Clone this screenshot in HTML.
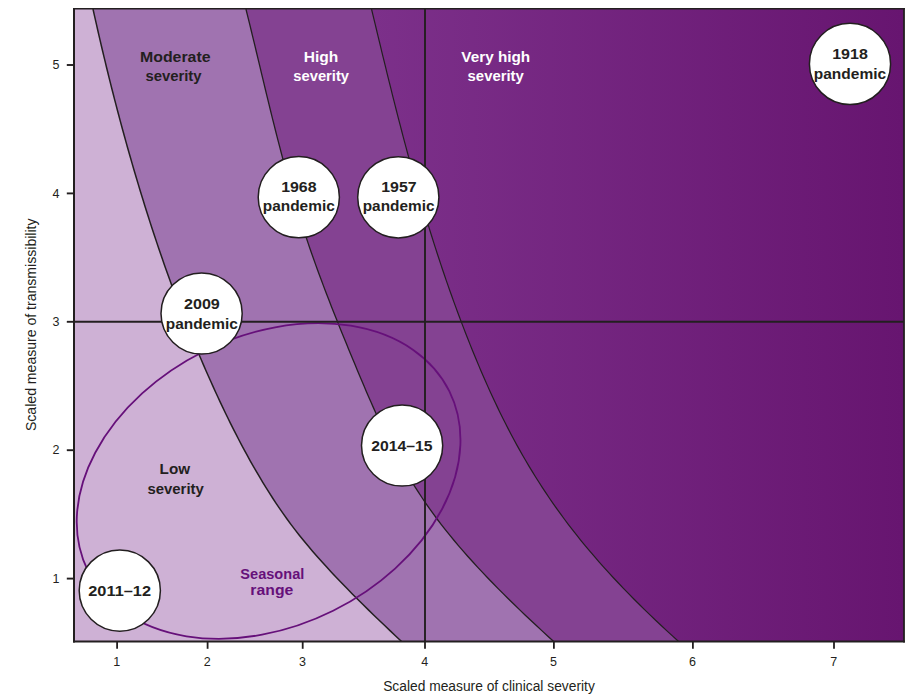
<!DOCTYPE html>
<html><head><meta charset="utf-8"><style>
html,body{margin:0;padding:0;background:#fff;width:914px;height:698px;overflow:hidden}
svg{display:block}
text{font-family:"Liberation Sans",sans-serif}
</style></head><body>
<svg width="914" height="698" viewBox="0 0 914 698">
<defs><linearGradient id="vg" gradientUnits="userSpaceOnUse" x1="372" x2="904" y1="0" y2="0"><stop offset="0" stop-color="#7c308a"/><stop offset="1" stop-color="#671570"/></linearGradient></defs>
<rect x="74" y="9" width="830" height="632.5" fill="url(#vg)"/>
<path d="M371.51,9.00 L372.79,14.32 L374.06,19.63 L375.34,24.95 L376.62,30.26 L377.90,35.58 L379.18,40.89 L380.47,46.21 L381.76,51.52 L383.05,56.84 L384.35,62.15 L385.65,67.47 L386.95,72.78 L388.26,78.10 L389.58,83.41 L390.90,88.73 L392.23,94.04 L393.57,99.36 L394.91,104.67 L396.26,109.99 L397.62,115.30 L398.99,120.62 L400.37,125.93 L401.75,131.25 L403.15,136.56 L404.55,141.88 L405.97,147.19 L407.40,152.51 L408.84,157.82 L410.29,163.14 L411.76,168.45 L413.23,173.77 L414.72,179.08 L416.23,184.40 L417.75,189.71 L419.28,195.03 L420.83,200.34 L422.39,205.66 L423.97,210.97 L425.57,216.29 L427.18,221.61 L428.81,226.92 L430.45,232.24 L432.12,237.55 L433.80,242.87 L435.50,248.18 L437.22,253.50 L438.97,258.81 L440.73,264.13 L442.51,269.44 L444.31,274.76 L446.13,280.07 L447.98,285.39 L449.85,290.70 L451.74,296.02 L453.65,301.33 L455.59,306.65 L457.55,311.96 L459.53,317.28 L461.54,322.59 L463.57,327.91 L465.63,333.22 L467.72,338.54 L469.83,343.85 L471.97,349.17 L474.14,354.48 L476.33,359.80 L478.56,365.11 L480.81,370.43 L483.10,375.74 L485.42,381.06 L487.79,386.37 L490.19,391.69 L492.63,397.00 L495.11,402.32 L497.64,407.63 L500.21,412.95 L502.84,418.26 L505.51,423.58 L508.24,428.89 L511.02,434.21 L513.86,439.53 L516.75,444.84 L519.71,450.16 L522.72,455.47 L525.81,460.79 L528.95,466.10 L532.17,471.42 L535.45,476.73 L538.81,482.05 L542.24,487.36 L545.74,492.68 L549.32,497.99 L552.99,503.31 L556.73,508.62 L560.55,513.94 L564.46,519.25 L568.46,524.57 L572.55,529.88 L576.72,535.20 L580.99,540.51 L585.35,545.83 L589.80,551.14 L594.35,556.46 L598.98,561.77 L603.69,567.09 L608.50,572.40 L613.39,577.72 L618.37,583.03 L623.44,588.35 L628.59,593.66 L633.82,598.98 L639.13,604.29 L644.53,609.61 L650.01,614.92 L655.57,620.24 L661.20,625.55 L666.92,630.87 L672.71,636.18 L678.58,641.50 L74,641.5 L74,9 Z" fill="#844292"/>
<path d="M245.93,9.00 L247.25,14.32 L248.56,19.63 L249.86,24.95 L251.15,30.26 L252.44,35.58 L253.73,40.89 L255.01,46.21 L256.28,51.52 L257.56,56.84 L258.83,62.15 L260.10,67.47 L261.37,72.78 L262.65,78.10 L263.92,83.41 L265.20,88.73 L266.49,94.04 L267.78,99.36 L269.07,104.67 L270.37,109.99 L271.69,115.30 L273.00,120.62 L274.33,125.93 L275.67,131.25 L277.03,136.56 L278.39,141.88 L279.77,147.19 L281.16,152.51 L282.57,157.82 L284.00,163.14 L285.44,168.45 L286.90,173.77 L288.38,179.08 L289.88,184.40 L291.41,189.71 L292.95,195.03 L294.52,200.34 L296.11,205.66 L297.73,210.97 L299.37,216.29 L301.04,221.61 L302.74,226.92 L304.47,232.24 L306.22,237.55 L308.01,242.87 L309.83,248.18 L311.67,253.50 L313.55,258.81 L315.45,264.13 L317.37,269.44 L319.32,274.76 L321.30,280.07 L323.29,285.39 L325.31,290.70 L327.35,296.02 L329.41,301.33 L331.48,306.65 L333.58,311.96 L335.69,317.28 L337.81,322.59 L339.95,327.91 L342.10,333.22 L344.26,338.54 L346.44,343.85 L348.62,349.17 L350.81,354.48 L353.01,359.80 L355.22,365.11 L357.43,370.43 L359.65,375.74 L361.89,381.06 L364.14,386.37 L366.41,391.69 L368.71,397.00 L371.04,402.32 L373.40,407.63 L375.80,412.95 L378.23,418.26 L380.71,423.58 L383.24,428.89 L385.82,434.21 L388.46,439.53 L391.15,444.84 L393.91,450.16 L396.73,455.47 L399.63,460.79 L402.60,466.10 L405.65,471.42 L408.79,476.73 L412.00,482.05 L415.31,487.36 L418.72,492.68 L422.22,497.99 L425.82,503.31 L429.53,508.62 L433.35,513.94 L437.28,519.25 L441.33,524.57 L445.49,529.88 L449.76,535.20 L454.14,540.51 L458.63,545.83 L463.22,551.14 L467.90,556.46 L472.68,561.77 L477.55,567.09 L482.52,572.40 L487.56,577.72 L492.69,583.03 L497.90,588.35 L503.19,593.66 L508.55,598.98 L513.98,604.29 L519.48,609.61 L525.04,614.92 L530.66,620.24 L536.34,625.55 L542.08,630.87 L547.86,636.18 L553.70,641.50 L74,641.5 L74,9 Z" fill="#a073b0"/>
<path d="M92.99,9.00 L94.17,14.32 L95.36,19.63 L96.56,24.95 L97.77,30.26 L99.00,35.58 L100.23,40.89 L101.47,46.21 L102.73,51.52 L104.00,56.84 L105.28,62.15 L106.57,67.47 L107.87,72.78 L109.18,78.10 L110.51,83.41 L111.85,88.73 L113.21,94.04 L114.57,99.36 L115.95,104.67 L117.34,109.99 L118.75,115.30 L120.16,120.62 L121.60,125.93 L123.04,131.25 L124.50,136.56 L125.97,141.88 L127.46,147.19 L128.96,152.51 L130.48,157.82 L132.01,163.14 L133.56,168.45 L135.12,173.77 L136.69,179.08 L138.29,184.40 L139.89,189.71 L141.51,195.03 L143.15,200.34 L144.81,205.66 L146.48,210.97 L148.17,216.29 L149.87,221.61 L151.59,226.92 L153.33,232.24 L155.09,237.55 L156.87,242.87 L158.67,248.18 L160.48,253.50 L162.31,258.81 L164.17,264.13 L166.04,269.44 L167.94,274.76 L169.85,280.07 L171.79,285.39 L173.75,290.70 L175.72,296.02 L177.73,301.33 L179.75,306.65 L181.80,311.96 L183.86,317.28 L185.96,322.59 L188.07,327.91 L190.21,333.22 L192.38,338.54 L194.57,343.85 L196.78,349.17 L199.02,354.48 L201.28,359.80 L203.57,365.11 L205.89,370.43 L208.23,375.74 L210.60,381.06 L213.00,386.37 L215.42,391.69 L217.87,397.00 L220.35,402.32 L222.87,407.63 L225.41,412.95 L227.99,418.26 L230.61,423.58 L233.27,428.89 L235.97,434.21 L238.72,439.53 L241.52,444.84 L244.36,450.16 L247.26,455.47 L250.21,460.79 L253.22,466.10 L256.29,471.42 L259.42,476.73 L262.61,482.05 L265.87,487.36 L269.20,492.68 L272.61,497.99 L276.11,503.31 L279.70,508.62 L283.38,513.94 L287.18,519.25 L291.10,524.57 L295.13,529.88 L299.30,535.20 L303.59,540.51 L308.00,545.83 L312.53,551.14 L317.16,556.46 L321.89,561.77 L326.71,567.09 L331.62,572.40 L336.62,577.72 L341.70,583.03 L346.86,588.35 L352.08,593.66 L357.38,598.98 L362.73,604.29 L368.15,609.61 L373.61,614.92 L379.13,620.24 L384.69,625.55 L390.28,630.87 L395.92,636.18 L401.58,641.50 L74,641.5 L74,9 Z" fill="#ceb1d5"/>
<path d="M92.99,9.00 L94.17,14.32 L95.36,19.63 L96.56,24.95 L97.77,30.26 L99.00,35.58 L100.23,40.89 L101.47,46.21 L102.73,51.52 L104.00,56.84 L105.28,62.15 L106.57,67.47 L107.87,72.78 L109.18,78.10 L110.51,83.41 L111.85,88.73 L113.21,94.04 L114.57,99.36 L115.95,104.67 L117.34,109.99 L118.75,115.30 L120.16,120.62 L121.60,125.93 L123.04,131.25 L124.50,136.56 L125.97,141.88 L127.46,147.19 L128.96,152.51 L130.48,157.82 L132.01,163.14 L133.56,168.45 L135.12,173.77 L136.69,179.08 L138.29,184.40 L139.89,189.71 L141.51,195.03 L143.15,200.34 L144.81,205.66 L146.48,210.97 L148.17,216.29 L149.87,221.61 L151.59,226.92 L153.33,232.24 L155.09,237.55 L156.87,242.87 L158.67,248.18 L160.48,253.50 L162.31,258.81 L164.17,264.13 L166.04,269.44 L167.94,274.76 L169.85,280.07 L171.79,285.39 L173.75,290.70 L175.72,296.02 L177.73,301.33 L179.75,306.65 L181.80,311.96 L183.86,317.28 L185.96,322.59 L188.07,327.91 L190.21,333.22 L192.38,338.54 L194.57,343.85 L196.78,349.17 L199.02,354.48 L201.28,359.80 L203.57,365.11 L205.89,370.43 L208.23,375.74 L210.60,381.06 L213.00,386.37 L215.42,391.69 L217.87,397.00 L220.35,402.32 L222.87,407.63 L225.41,412.95 L227.99,418.26 L230.61,423.58 L233.27,428.89 L235.97,434.21 L238.72,439.53 L241.52,444.84 L244.36,450.16 L247.26,455.47 L250.21,460.79 L253.22,466.10 L256.29,471.42 L259.42,476.73 L262.61,482.05 L265.87,487.36 L269.20,492.68 L272.61,497.99 L276.11,503.31 L279.70,508.62 L283.38,513.94 L287.18,519.25 L291.10,524.57 L295.13,529.88 L299.30,535.20 L303.59,540.51 L308.00,545.83 L312.53,551.14 L317.16,556.46 L321.89,561.77 L326.71,567.09 L331.62,572.40 L336.62,577.72 L341.70,583.03 L346.86,588.35 L352.08,593.66 L357.38,598.98 L362.73,604.29 L368.15,609.61 L373.61,614.92 L379.13,620.24 L384.69,625.55 L390.28,630.87 L395.92,636.18 L401.58,641.50" fill="none" stroke="#231f20" stroke-width="1.5"/>
<path d="M245.93,9.00 L247.25,14.32 L248.56,19.63 L249.86,24.95 L251.15,30.26 L252.44,35.58 L253.73,40.89 L255.01,46.21 L256.28,51.52 L257.56,56.84 L258.83,62.15 L260.10,67.47 L261.37,72.78 L262.65,78.10 L263.92,83.41 L265.20,88.73 L266.49,94.04 L267.78,99.36 L269.07,104.67 L270.37,109.99 L271.69,115.30 L273.00,120.62 L274.33,125.93 L275.67,131.25 L277.03,136.56 L278.39,141.88 L279.77,147.19 L281.16,152.51 L282.57,157.82 L284.00,163.14 L285.44,168.45 L286.90,173.77 L288.38,179.08 L289.88,184.40 L291.41,189.71 L292.95,195.03 L294.52,200.34 L296.11,205.66 L297.73,210.97 L299.37,216.29 L301.04,221.61 L302.74,226.92 L304.47,232.24 L306.22,237.55 L308.01,242.87 L309.83,248.18 L311.67,253.50 L313.55,258.81 L315.45,264.13 L317.37,269.44 L319.32,274.76 L321.30,280.07 L323.29,285.39 L325.31,290.70 L327.35,296.02 L329.41,301.33 L331.48,306.65 L333.58,311.96 L335.69,317.28 L337.81,322.59 L339.95,327.91 L342.10,333.22 L344.26,338.54 L346.44,343.85 L348.62,349.17 L350.81,354.48 L353.01,359.80 L355.22,365.11 L357.43,370.43 L359.65,375.74 L361.89,381.06 L364.14,386.37 L366.41,391.69 L368.71,397.00 L371.04,402.32 L373.40,407.63 L375.80,412.95 L378.23,418.26 L380.71,423.58 L383.24,428.89 L385.82,434.21 L388.46,439.53 L391.15,444.84 L393.91,450.16 L396.73,455.47 L399.63,460.79 L402.60,466.10 L405.65,471.42 L408.79,476.73 L412.00,482.05 L415.31,487.36 L418.72,492.68 L422.22,497.99 L425.82,503.31 L429.53,508.62 L433.35,513.94 L437.28,519.25 L441.33,524.57 L445.49,529.88 L449.76,535.20 L454.14,540.51 L458.63,545.83 L463.22,551.14 L467.90,556.46 L472.68,561.77 L477.55,567.09 L482.52,572.40 L487.56,577.72 L492.69,583.03 L497.90,588.35 L503.19,593.66 L508.55,598.98 L513.98,604.29 L519.48,609.61 L525.04,614.92 L530.66,620.24 L536.34,625.55 L542.08,630.87 L547.86,636.18 L553.70,641.50" fill="none" stroke="#231f20" stroke-width="1.3"/>
<path d="M371.51,9.00 L372.79,14.32 L374.06,19.63 L375.34,24.95 L376.62,30.26 L377.90,35.58 L379.18,40.89 L380.47,46.21 L381.76,51.52 L383.05,56.84 L384.35,62.15 L385.65,67.47 L386.95,72.78 L388.26,78.10 L389.58,83.41 L390.90,88.73 L392.23,94.04 L393.57,99.36 L394.91,104.67 L396.26,109.99 L397.62,115.30 L398.99,120.62 L400.37,125.93 L401.75,131.25 L403.15,136.56 L404.55,141.88 L405.97,147.19 L407.40,152.51 L408.84,157.82 L410.29,163.14 L411.76,168.45 L413.23,173.77 L414.72,179.08 L416.23,184.40 L417.75,189.71 L419.28,195.03 L420.83,200.34 L422.39,205.66 L423.97,210.97 L425.57,216.29 L427.18,221.61 L428.81,226.92 L430.45,232.24 L432.12,237.55 L433.80,242.87 L435.50,248.18 L437.22,253.50 L438.97,258.81 L440.73,264.13 L442.51,269.44 L444.31,274.76 L446.13,280.07 L447.98,285.39 L449.85,290.70 L451.74,296.02 L453.65,301.33 L455.59,306.65 L457.55,311.96 L459.53,317.28 L461.54,322.59 L463.57,327.91 L465.63,333.22 L467.72,338.54 L469.83,343.85 L471.97,349.17 L474.14,354.48 L476.33,359.80 L478.56,365.11 L480.81,370.43 L483.10,375.74 L485.42,381.06 L487.79,386.37 L490.19,391.69 L492.63,397.00 L495.11,402.32 L497.64,407.63 L500.21,412.95 L502.84,418.26 L505.51,423.58 L508.24,428.89 L511.02,434.21 L513.86,439.53 L516.75,444.84 L519.71,450.16 L522.72,455.47 L525.81,460.79 L528.95,466.10 L532.17,471.42 L535.45,476.73 L538.81,482.05 L542.24,487.36 L545.74,492.68 L549.32,497.99 L552.99,503.31 L556.73,508.62 L560.55,513.94 L564.46,519.25 L568.46,524.57 L572.55,529.88 L576.72,535.20 L580.99,540.51 L585.35,545.83 L589.80,551.14 L594.35,556.46 L598.98,561.77 L603.69,567.09 L608.50,572.40 L613.39,577.72 L618.37,583.03 L623.44,588.35 L628.59,593.66 L633.82,598.98 L639.13,604.29 L644.53,609.61 L650.01,614.92 L655.57,620.24 L661.20,625.55 L666.92,630.87 L672.71,636.18 L678.58,641.50" fill="none" stroke="#231f20" stroke-width="1.2"/>
<ellipse cx="268.6" cy="481" rx="201.8" ry="144.9" transform="rotate(-26.43 268.6 481)" fill="none" stroke="#66107a" stroke-width="1.8"/>
<line x1="425" y1="9" x2="425" y2="641.5" stroke="#231f20" stroke-width="1.9"/>
<line x1="74" y1="321.8" x2="904" y2="321.8" stroke="#231f20" stroke-width="1.9"/>
<line x1="73" y1="8.8" x2="904.9" y2="8.8" stroke="#231f20" stroke-width="1.5"/>
<line x1="904" y1="8.1" x2="904" y2="642.5" stroke="#231f20" stroke-width="1.8"/>
<line x1="74" y1="8.1" x2="74" y2="642.5" stroke="#231f20" stroke-width="2"/>
<line x1="73" y1="641.5" x2="904.9" y2="641.5" stroke="#231f20" stroke-width="1.9"/>
<line x1="117.1" y1="641.5" x2="117.1" y2="648.8" stroke="#231f20" stroke-width="1.8"/>
<text x="116.8" y="665.8" font-size="12.5" text-anchor="middle" fill="#231f20">1</text>
<line x1="207.6" y1="641.5" x2="207.6" y2="648.8" stroke="#231f20" stroke-width="1.8"/>
<text x="207.29999999999998" y="665.8" font-size="12.5" text-anchor="middle" fill="#231f20">2</text>
<line x1="302.7" y1="641.5" x2="302.7" y2="648.8" stroke="#231f20" stroke-width="1.8"/>
<text x="302.4" y="665.8" font-size="12.5" text-anchor="middle" fill="#231f20">3</text>
<line x1="425" y1="641.5" x2="425" y2="648.8" stroke="#231f20" stroke-width="1.8"/>
<text x="424.7" y="665.8" font-size="12.5" text-anchor="middle" fill="#231f20">4</text>
<line x1="553.9" y1="641.5" x2="553.9" y2="648.8" stroke="#231f20" stroke-width="1.8"/>
<text x="553.6" y="665.8" font-size="12.5" text-anchor="middle" fill="#231f20">5</text>
<line x1="692.9" y1="641.5" x2="692.9" y2="648.8" stroke="#231f20" stroke-width="1.8"/>
<text x="692.6" y="665.8" font-size="12.5" text-anchor="middle" fill="#231f20">6</text>
<line x1="834" y1="641.5" x2="834" y2="648.8" stroke="#231f20" stroke-width="1.8"/>
<text x="833.7" y="665.8" font-size="12.5" text-anchor="middle" fill="#231f20">7</text>
<line x1="66.8" y1="65.0" x2="74" y2="65.0" stroke="#231f20" stroke-width="1.9"/>
<text x="59.4" y="69.2" font-size="12.5" text-anchor="end" fill="#231f20">5</text>
<line x1="66.8" y1="193.4" x2="74" y2="193.4" stroke="#231f20" stroke-width="1.9"/>
<text x="59.4" y="197.6" font-size="12.5" text-anchor="end" fill="#231f20">4</text>
<line x1="66.8" y1="321.8" x2="74" y2="321.8" stroke="#231f20" stroke-width="1.9"/>
<text x="59.4" y="326.0" font-size="12.5" text-anchor="end" fill="#231f20">3</text>
<line x1="66.8" y1="450.2" x2="74" y2="450.2" stroke="#231f20" stroke-width="1.9"/>
<text x="59.4" y="454.4" font-size="12.5" text-anchor="end" fill="#231f20">2</text>
<line x1="66.8" y1="578.6" x2="74" y2="578.6" stroke="#231f20" stroke-width="1.9"/>
<text x="59.4" y="582.8000000000001" font-size="12.5" text-anchor="end" fill="#231f20">1</text>
<circle cx="850" cy="63.9" r="40.6" fill="#fff" stroke="#231f20" stroke-width="1.5"/>
<circle cx="298.8" cy="197.2" r="40.6" fill="#fff" stroke="#231f20" stroke-width="1.5"/>
<circle cx="398.3" cy="197.3" r="40.6" fill="#fff" stroke="#231f20" stroke-width="1.5"/>
<circle cx="201.6" cy="313.5" r="40.6" fill="#fff" stroke="#231f20" stroke-width="1.5"/>
<circle cx="402.1" cy="445.5" r="40.6" fill="#fff" stroke="#231f20" stroke-width="1.5"/>
<circle cx="119.8" cy="590.6" r="40.6" fill="#fff" stroke="#231f20" stroke-width="1.5"/>
<text x="139.98" y="61.6" font-size="15.5" font-weight="bold" fill="#231f20" textLength="70.54" lengthAdjust="spacingAndGlyphs">Moderate</text>
<text x="145.42" y="81.3" font-size="15.5" font-weight="bold" fill="#231f20" textLength="56.18" lengthAdjust="spacingAndGlyphs">severity</text>
<text x="303.70" y="61.8" font-size="15.5" font-weight="bold" fill="#fff" textLength="34.54" lengthAdjust="spacingAndGlyphs">High</text>
<text x="293.32" y="81.3" font-size="15.5" font-weight="bold" fill="#fff" textLength="55.68" lengthAdjust="spacingAndGlyphs">severity</text>
<text x="461.35" y="61.6" font-size="15.5" font-weight="bold" fill="#fff" textLength="68.86" lengthAdjust="spacingAndGlyphs">Very high</text>
<text x="467.62" y="81.3" font-size="15.5" font-weight="bold" fill="#fff" textLength="56.18" lengthAdjust="spacingAndGlyphs">severity</text>
<text x="159.62" y="473.8" font-size="15.5" font-weight="bold" fill="#231f20" textLength="30.48" lengthAdjust="spacingAndGlyphs">Low</text>
<text x="147.42" y="493.5" font-size="15.5" font-weight="bold" fill="#231f20" textLength="56.39" lengthAdjust="spacingAndGlyphs">severity</text>
<text x="240.33" y="578.8" font-size="15.5" font-weight="bold" fill="#66107a" textLength="63.97" lengthAdjust="spacingAndGlyphs">Seasonal</text>
<text x="250.38" y="594.6" font-size="15.5" font-weight="bold" fill="#66107a" textLength="42.89" lengthAdjust="spacingAndGlyphs">range</text>
<text x="832.17" y="58.6" font-size="15.5" font-weight="bold" fill="#231f20" textLength="35.63" lengthAdjust="spacingAndGlyphs">1918</text>
<text x="813.80" y="78.5" font-size="15.5" font-weight="bold" fill="#231f20" textLength="72.26" lengthAdjust="spacingAndGlyphs">pandemic</text>
<text x="281.17" y="191.85" font-size="15.5" font-weight="bold" fill="#231f20" textLength="35.42" lengthAdjust="spacingAndGlyphs">1968</text>
<text x="262.81" y="211.3" font-size="15.5" font-weight="bold" fill="#231f20" textLength="71.95" lengthAdjust="spacingAndGlyphs">pandemic</text>
<text x="381.27" y="191.7" font-size="15.5" font-weight="bold" fill="#231f20" textLength="35.38" lengthAdjust="spacingAndGlyphs">1957</text>
<text x="362.71" y="211.3" font-size="15.5" font-weight="bold" fill="#231f20" textLength="71.75" lengthAdjust="spacingAndGlyphs">pandemic</text>
<text x="183.98" y="308.75" font-size="15.5" font-weight="bold" fill="#231f20" textLength="35.87" lengthAdjust="spacingAndGlyphs">2009</text>
<text x="165.81" y="328.5" font-size="15.5" font-weight="bold" fill="#231f20" textLength="71.95" lengthAdjust="spacingAndGlyphs">pandemic</text>
<text x="371.29" y="451" font-size="15.5" font-weight="bold" fill="#231f20" textLength="61.36" lengthAdjust="spacingAndGlyphs">2014–15</text>
<text x="88.27" y="596" font-size="15.5" font-weight="bold" fill="#231f20" textLength="62.75" lengthAdjust="spacingAndGlyphs">2011–12</text>
<text x="383.16" y="690.7" font-size="14" fill="#231f20" textLength="211.65" lengthAdjust="spacingAndGlyphs">Scaled measure of clinical severity</text>
<text transform="translate(36 430.3) rotate(-90)" x="-0.75" y="0" font-size="14" fill="#231f20" textLength="212.59" lengthAdjust="spacingAndGlyphs">Scaled measure of transmissibility</text>
</svg></body></html>
